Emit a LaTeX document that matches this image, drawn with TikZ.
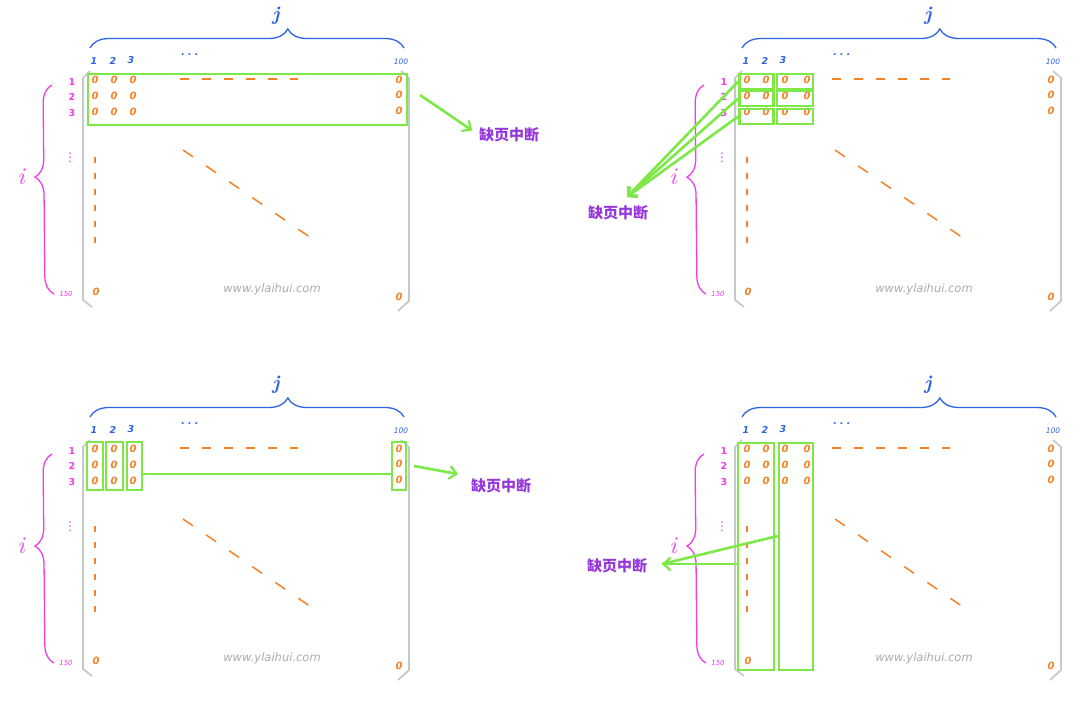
\documentclass[tikz,border=0pt]{standalone}
\usepackage{fontspec}
\newfontfamily\cjk{Noto Sans CJK SC}
\newfontfamily\hand{DejaVu Sans}
\usetikzlibrary{arrows.meta,decorations.pathreplacing,calc}
\definecolor{jblue}{RGB}{45,100,228}
\definecolor{imag}{RGB}{240,60,235}
\definecolor{zorange}{RGB}{245,130,40}
\definecolor{gbright}{RGB}{125,232,70}
\definecolor{npurple}{RGB}{150,55,220}
\definecolor{mgray}{RGB}{200,200,200}
\tikzset{
  zero/.style={text=zorange, font=\hand\bfseries\itshape\fontsize{10}{10}\selectfont, inner sep=0pt},
  collab/.style={text=jblue, font=\hand\bfseries\itshape\fontsize{9.5}{9.5}\selectfont, inner sep=0pt},
  smallcol/.style={text=jblue, font=\hand\itshape\fontsize{7.5}{7.5}\selectfont, inner sep=0pt},
  rowlab/.style={text=imag, font=\hand\bfseries\fontsize{9.5}{9.5}\selectfont, inner sep=0pt},
  smallrow/.style={text=imag, font=\hand\itshape\fontsize{7}{7}\selectfont, inner sep=0pt},
  jlabel/.style={text=jblue, font=\itshape\bfseries\fontsize{20}{20}\selectfont, inner sep=0pt},
  ilabel/.style={text=imag, font=\itshape\fontsize{24}{24}\selectfont, inner sep=0pt},
  jbrace/.style={draw=jblue, line width=1.3pt, decorate, decoration={brace, amplitude=19pt, aspect=0.63}},
  ibrace/.style={draw=imag, line width=1.3pt, decorate, decoration={brace, amplitude=18pt, aspect=0.56}},
  mbracket/.style={draw=mgray, line width=1.7pt},
  odash/.style={draw=zorange, line width=1.5pt},
  gbox/.style={draw=gbright, line width=2.6pt, inner sep=0pt},
  gline/.style={draw=gbright, line width=2.6pt},
  garrow/.style={gline, -{Straight Barb[length=7pt,width=13pt,line width=2.2pt]}},
  note/.style={text=npurple, font=\cjk\bfseries\fontsize{15}{15}\selectfont, inner sep=0pt},
  wmark/.style={text=gray!65, font=\hand\itshape\fontsize{11.5}{11.5}\selectfont, inner sep=0pt},
}
\newcommand\matrixpanel[1]{%
  \node[jlabel] (j) at (276,16) {j};
  \coordinate (jl) at (90,48);
  \coordinate (jr) at (404,48);
  \draw[jbrace] (jl) -- (jr);
  \node[collab] (c1) at (94,61) {1};
  \node[collab] (c2) at (113,61) {2};
  \node[collab] (c3) at (131,60) {3};
  \node[collab] (cd) at (190,55) {.\,\,.\,\,.};
  \node[smallcol] (c100) at (401,62) {100};
  \coordinate (ib) at (54,294);
  \coordinate (it) at (52,85);
  \draw[ibrace] (ib) -- (it);
  \node[ilabel] (i) at (21,177) {i};
  \node[rowlab] (r1) at (72,82) {1};
  \node[rowlab] (r2) at (72,97) {2};
  \node[rowlab] (r3) at (72,113) {3};
  \node[rowlab, font=\hand\fontsize{12}{12}\selectfont] (rd) at (70,158) {⋮};
  \node[smallrow] (r150) at (66,294) {150};
  \draw[mbracket] (90,71) -- (83,78) -- (83,300) -- (92,307);
  \draw[mbracket] (401,71) -- (409,78) -- (409,301) -- (398,311);
  \foreach \r/\y in {1/80,2/96,3/112}{
    \foreach \c/\x in {1/95,2/114,3/133}{
      \node[zero] (z\r\c) at (\x,\y) {0};
    }
  }
  \ifnum#1=1
    \foreach \r/\y in {1/80,2/96,3/112}{\node[zero] (z\r4) at (155,\y) {0};}
  \fi
  \node[zero] (zr1) at (399,80) {0};
  \node[zero] (zr2) at (399,95) {0};
  \node[zero] (zr3) at (399,111) {0};
  \node[zero] (zb1) at (96,292) {0};
  \node[zero] (zb2) at (399,297) {0};
  \draw[odash, dash pattern=on 9pt off 13pt] (180,79) -- (298,79);
  \draw[odash, dash pattern=on 6pt off 10pt] (95,157) -- (95,243);
  \draw[odash, dash pattern=on 12pt off 16pt] (183,150) -- (314,240);
  \node[wmark] (wm) at (272,289) {www.ylaihui.com};
}
\begin{document}
\begin{tikzpicture}[x=1pt,y=-1pt]
\useasboundingbox[fill=white] (0,0) rectangle (1091,706);

% ---------- panel 1 ----------
\begin{scope}[name prefix=A-]
  \matrixpanel{0}
\end{scope}
\node[gbox, minimum width=319pt, minimum height=51pt] (A-box) at (247.5,99.5) {};
\node[note] (A-note) at (509,135) {缺页中断};
\coordinate (A-s) at (420,95);
\draw[garrow, shorten >=8pt] (A-s) -- (A-note.west);

% ---------- panel 2 ----------
\begin{scope}[shift={(652,0)}, name prefix=B-]
  \matrixpanel{1}
\end{scope}
\foreach \r/\y in {1/81.5,2/98.5,3/116.5}{
  \node[gbox, minimum width=34pt, minimum height=15pt] (B-box\r a) at (756.5,\y) {};
  \node[gbox, minimum width=36pt, minimum height=15pt] (B-box\r b) at (795,\y) {};
}
\node[note] (B-note) at (618,213) {缺页中断};
\coordinate (B-tip) at (627,197);
\foreach \r in {1,2,3}{
  \draw[garrow] (B-box\r a.west) -- (B-tip);
}

% ---------- panel 3 ----------
\begin{scope}[shift={(0,369)}, name prefix=C-]
  \matrixpanel{0}
\end{scope}
\node[gbox, minimum width=16pt, minimum height=48pt] (C-box1) at (95,466) {};
\node[gbox, minimum width=17pt, minimum height=48pt] (C-box2) at (114.5,466) {};
\node[gbox, minimum width=15pt, minimum height=48pt] (C-box3) at (134.5,466) {};
\node[gbox, minimum width=14pt, minimum height=48pt] (C-box4) at (399,466) {};
\draw[gline] (C-box3.east |- 0,474) -- (C-box4.west |- 0,474);
\node[note] (C-note) at (501,486) {缺页中断};
\coordinate (C-s) at (414,466);
\coordinate (C-tip) at (458,474);
\draw[garrow] (C-s) -- (C-tip);

% ---------- panel 4 ----------
\begin{scope}[shift={(652,369)}, name prefix=D-]
  \matrixpanel{1}
\end{scope}
\node[gbox, minimum width=36pt, minimum height=227pt] (D-box1) at (756,556.5) {};
\node[gbox, minimum width=34pt, minimum height=227pt] (D-box2) at (796,556.5) {};
\node[note] (D-note) at (617,566) {缺页中断};
\coordinate (D-tip) at (662,564);
\draw[gline] (D-box2.west |- 0,536) -- (D-tip);
\draw[garrow] (D-box1.west |- 0,564) -- (D-tip);
\end{tikzpicture}
\end{document}
